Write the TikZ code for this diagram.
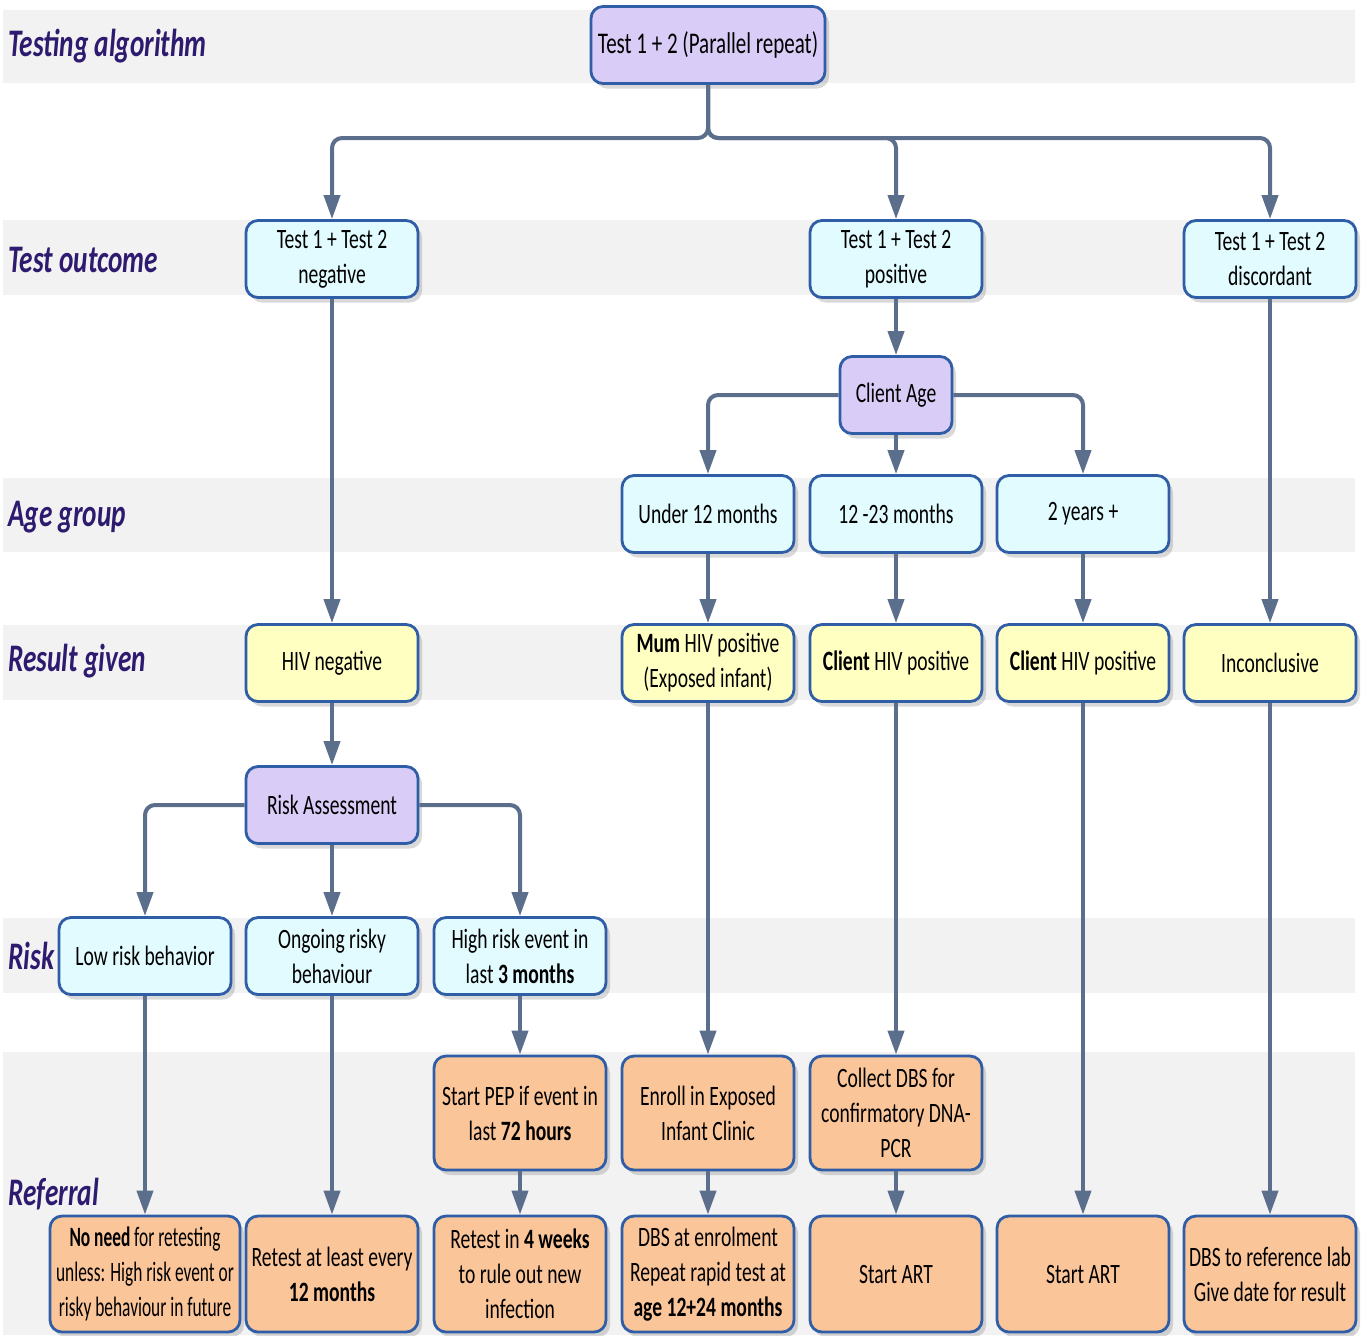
\documentclass[tikz,border=0pt]{standalone}
\usepackage{fontspec}
\setmainfont{Carlito}[FakeStretch=0.70]
\newfontfamily\narrowfont{Carlito}[FakeStretch=0.62]
\usetikzlibrary{arrows.meta,shadows}
\definecolor{bandgray}{HTML}{F2F2F2}
\definecolor{lavfill}{HTML}{D9CCF6}
\definecolor{cyanfill}{HTML}{E1FBFF}
\definecolor{yelfill}{HTML}{FFFFC2}
\definecolor{orgfill}{HTML}{FBC59A}
\definecolor{boxline}{HTML}{2F5DA6}
\definecolor{flowc}{HTML}{5B6E8C}
\definecolor{rowlabel}{HTML}{2E1A6E}
\begin{document}
\begin{tikzpicture}[x=0.5pt,y=-0.5pt,
    box/.style={draw=boxline,line width=1.4pt,rounded corners=6pt,minimum width=86pt,
      minimum height=38.5pt,align=center,inner sep=1pt,text=black,
      font=\fontsize{14}{17.5}\selectfont,
      drop shadow={shadow xshift=2pt,shadow yshift=-2.5pt,opacity=0.3}},
    decide/.style={box,fill=lavfill},
    outcome/.style={box,fill=cyanfill},
    result/.style={box,fill=yelfill},
    refer/.style={box,fill=orgfill,minimum height=57pt},
    rowname/.style={anchor=west,inner sep=0pt,text=rowlabel,font=\fontsize{19.5}{22}\selectfont\bfseries\itshape},
    flow/.style={draw=flowc,line width=2pt,rounded corners=5pt},
    arr/.style={-{Triangle[width=8pt,length=12pt]}}]
  \useasboundingbox (0,0) rectangle (1368,1335);
  % grey bands
  \fill[bandgray] (3,10) rectangle (1355,83);
  \fill[bandgray] (3,220) rectangle (1355,295);
  \fill[bandgray] (3,478) rectangle (1355,552);
  \fill[bandgray] (3,625) rectangle (1355,700);
  \fill[bandgray] (3,918) rectangle (1355,993);
  \fill[bandgray] (3,1052) rectangle (1355,1335);
  % row names
  \node[rowname] (lalg) at (8,46) {Testing algorithm};
  \node[rowname] (lout) at (8,260) {Test outcome};
  \node[rowname] (lage) at (8,517) {Age group};
  \node[rowname] (lres) at (8,661) {Result given};
  \node[rowname] (lrisk) at (8,956) {Risk};
  \node[rowname] (lref) at (8,1194) {Referral};
  % nodes
  \node[decide,minimum width=117pt,font=\fontsize{15}{18}\selectfont] (alg) at (708,45) {Test 1 + 2 (Parallel repeat)};
  \node[outcome] (neg) at (332,259) {Test 1 + Test 2\\negative};
  \node[outcome] (pos) at (896,259) {Test 1 + Test 2\\positive};
  \node[outcome] (disc) at (1270,259) {Test 1 + Test 2\\discordant};
  \node[decide,minimum width=56pt] (age) at (896,395) {Client Age};
  \node[outcome] (u12) at (708,514) {Under 12 months};
  \node[outcome] (m12) at (896,514) {12 -23 months};
  \node[outcome] (y2) at (1083,514) {2 years +};
  \node[result] (hneg) at (332,663) {HIV negative};
  \node[result] (mum) at (708,663) {\textbf{Mum} HIV positive\\(Exposed infant)};
  \node[result] (cpa) at (896,663) {\textbf{Client} HIV positive};
  \node[result] (cpb) at (1083,663) {\textbf{Client} HIV positive};
  \node[result] (inc) at (1270,663) {Inconclusive};
  \node[decide] (ra) at (332,805) {Risk Assessment};
  \node[outcome] (low) at (145,956) {Low risk behavior};
  \node[outcome] (ongo) at (332,956) {Ongoing risky\\behaviour};
  \node[outcome] (high) at (520,956) {High risk event in\\last \textbf{3 months}};
  \node[refer] (pep) at (520,1113) {Start PEP if event in\\last \textbf{72 hours}};
  \node[refer] (enrol) at (708,1113) {Enroll in Exposed\\Infant Clinic};
  \node[refer] (dbs) at (896,1113) {Collect DBS for\\confirmatory DNA-\\PCR};
  \node[refer,minimum width=95pt,minimum height=58pt,font=\fontsize{14}{17.5}\narrowfont] (noneed) at (145,1274) {\textbf{No need} for retesting\\unless: High risk event or\\risky behaviour in future};
  \node[refer,minimum height=58pt] (ret12) at (332,1274) {Retest at least every\\\textbf{12 months}};
  \node[refer,minimum height=58pt] (ret4) at (520,1274) {Retest in \textbf{4 weeks}\\to rule out new\\infection};
  \node[refer,minimum height=58pt] (dbsen) at (708,1274) {DBS at enrolment\\Repeat rapid test at\\\textbf{age 12+24 months}};
  \node[refer,minimum height=58pt] (arta) at (896,1274) {Start ART};
  \node[refer,minimum height=58pt] (artb) at (1083,1274) {Start ART};
  \node[refer,minimum height=58pt] (lab) at (1270,1274) {DBS to reference lab\\Give date for result};
  % connectors
  \coordinate (split) at (708,138);
  \draw[flow,arr] (alg.south) -- (split) -| (neg.north);
  \draw[flow,arr] (alg.south) -- (split) -| (pos.north);
  \draw[flow,arr] (alg.south) -- (split) -| (disc.north);
  \draw[flow,arr] (pos) -- (age);
  \draw[flow,arr] (age.west) -| (u12.north);
  \draw[flow,arr] (age) -- (m12);
  \draw[flow,arr] (age.east) -| (y2.north);
  \draw[flow,arr] (neg) -- (hneg);
  \draw[flow,arr] (u12) -- (mum);
  \draw[flow,arr] (m12) -- (cpa);
  \draw[flow,arr] (y2) -- (cpb);
  \draw[flow,arr] (disc) -- (inc);
  \draw[flow,arr] (hneg) -- (ra);
  \draw[flow,arr] (ra.west) -| (low.north);
  \draw[flow,arr] (ra) -- (ongo);
  \draw[flow,arr] (ra.east) -| (high.north);
  \draw[flow,arr] (low) -- (noneed);
  \draw[flow,arr] (ongo) -- (ret12);
  \draw[flow,arr] (high) -- (pep);
  \draw[flow,arr] (pep) -- (ret4);
  \draw[flow,arr] (mum) -- (enrol);
  \draw[flow,arr] (enrol) -- (dbsen);
  \draw[flow,arr] (cpa) -- (dbs);
  \draw[flow,arr] (dbs) -- (arta);
  \draw[flow,arr] (cpb) -- (artb);
  \draw[flow,arr] (inc) -- (lab);
\end{tikzpicture}
\end{document}
